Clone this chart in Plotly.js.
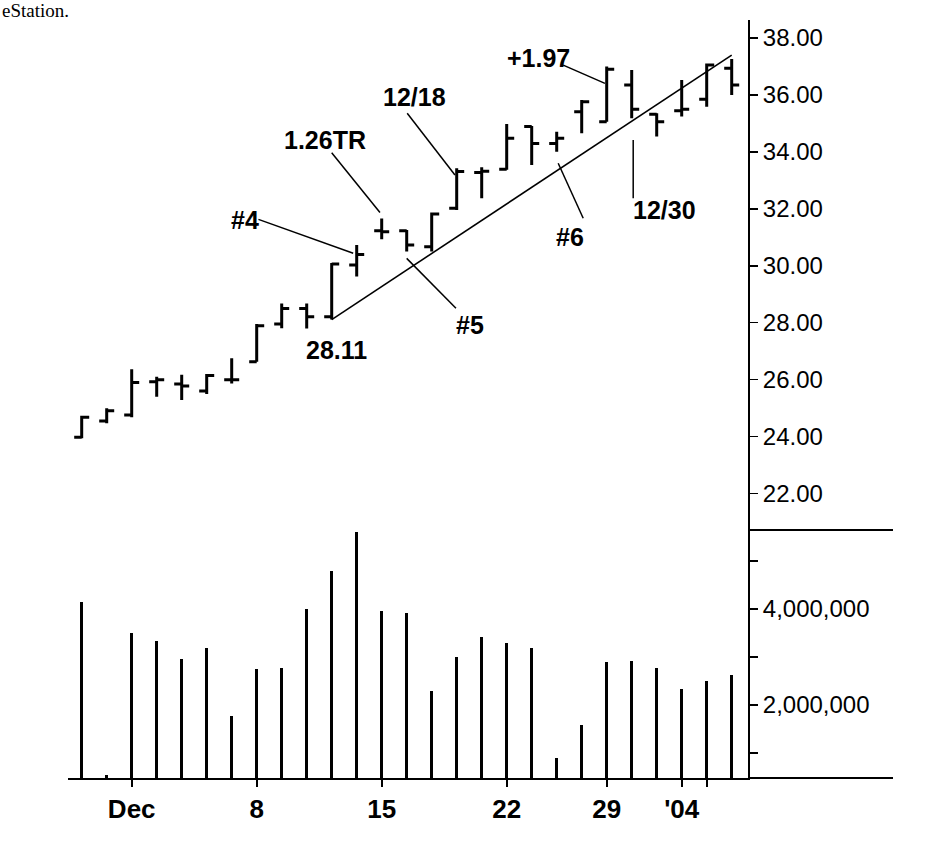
<!DOCTYPE html>
<html>
<head>
<meta charset="utf-8">
<script src="https://cdn.plot.ly/plotly-3.0.1.min.js"></script>
<style>
  html, body { margin: 0; padding: 0; background: #ffffff; }
  #chart { width: 942px; height: 846px; }
</style>
</head>
<body>
<div id="chart"></div>
<script>
// Trading days (Nov 26, 2003 - Jan 6, 2004)
const dates = ['Nov 26','Nov 28','Dec 1','Dec 2','Dec 3','Dec 4','Dec 5',
  'Dec 8','Dec 9','Dec 10','Dec 11','Dec 12',
  'Dec 15','Dec 16','Dec 17','Dec 18','Dec 19',
  'Dec 22','Dec 23','Dec 24','Dec 26',
  'Dec 29','Dec 30','Dec 31','Jan 2','Jan 5','Jan 6'];

const openP  = [23.98,24.55,24.76,25.93,25.85,25.60,26.00,26.63,27.96,28.50,28.21,30.03,31.23,31.23,30.67,32.02,33.28,33.39,34.89,34.30,35.41,35.06,36.35,35.32,35.45,35.85,36.94];
const highP  = [24.73,25.00,26.37,26.10,26.17,26.20,26.75,27.96,28.68,28.68,30.10,30.73,31.66,31.26,31.87,33.43,33.46,34.98,34.91,34.71,35.82,37.00,36.88,35.36,36.53,37.11,37.26];
const lowP   = [23.94,24.47,24.68,25.40,25.29,25.50,25.87,26.63,27.81,27.80,28.11,29.62,30.93,30.50,30.50,31.96,32.37,33.37,33.54,34.01,34.66,35.06,35.18,34.54,35.24,35.59,36.00];
const closeP = [24.68,24.91,25.90,26.00,25.78,26.15,26.00,27.89,28.50,28.21,30.06,30.40,31.20,30.73,31.82,33.31,33.32,34.48,34.30,34.48,35.76,36.90,35.50,35.06,35.50,37.05,36.35];

const volume = [4150000,550000,3510000,3340000,2960000,3180000,1770000,2740000,2780000,4000000,4790000,5600000,3960000,3920000,2290000,3000000,3410000,3300000,3180000,900000,1590000,2890000,2920000,2780000,2330000,2510000,2630000];

// Trend line (from the 28.11 low to the last day)
const trendDates = ['Dec 11','Jan 6'];
const trendValues = [28.11, 37.40];

// X tick labels
const xTickDates  = ['Dec 1','Dec 8','Dec 15','Dec 22','Dec 29','Jan 2','Jan 5'];
const xTickLabels = ['Dec','8','15','22','29',"'04",''];
const xLongTickDates = ['Dec 1','Jan 2'];

// Price ticks
const priceTicks = [22,24,26,28,30,32,34,36,38];
// Volume ticks
const volTicks = [1000000,2000000,3000000,4000000,5000000];
const volTickLabels = ['','2,000,000','','4,000,000',''];

// Chart notes
const noteTexts = ['#4','1.26TR','12/18','+1.97','#5','#6','12/30','28.11'];
const noteX = [6.53, 9.73, 13.33, 18.26, 15.53, 19.53, 23.33, 10.2];
const noteY = [31.61, 34.42, 35.94, 37.29, 27.92, 31.01, 31.96, 27.04];
const leaders = [
  [7.07,31.63,10.86,30.44],
  [10.0,33.97,11.93,31.87],
  [13.02,35.36,14.93,33.19],
  [19.26,37.05,20.93,36.41],
  [14.97,28.51,13.0,30.26],
  [20.06,31.67,19.06,33.6],
  [22.06,32.37,22.06,34.42]
];

const idx = d => dates.indexOf(d);
const xs = dates.map((d,i) => i);

const FONT = 'Liberation Sans, Arial, Helvetica, sans-serif';

const traces = [
  {
    type: 'ohlc', x: xs, open: openP, high: highP, low: lowP, close: closeP,
    xaxis: 'x', yaxis: 'y', tickwidth: 0.3,
    increasing: {line: {color: '#000000', width: 3}},
    decreasing: {line: {color: '#000000', width: 3}},
    hoverinfo: 'skip', showlegend: false
  },
  {
    type: 'scatter', mode: 'lines', x: trendDates.map(idx), y: trendValues,
    xaxis: 'x', yaxis: 'y', line: {color: '#000000', width: 1.6},
    hoverinfo: 'skip', showlegend: false
  },
  {
    type: 'bar', x: xs, y: volume, xaxis: 'x', yaxis: 'y2', width: 0.14,
    marker: {color: '#000000', line: {width: 0}},
    hoverinfo: 'skip', showlegend: false
  }
];

const xRange = [-0.548, 26.652];
const splitFrac = (778 - 530) / 758;

const shapes = leaders.map(l => ({
  type: 'line', xref: 'x', yref: 'y', x0: l[0], y0: l[1], x1: l[2], y1: l[3],
  line: {color: '#000000', width: 1.5}
}));
// separator between panels and baseline extension to the right
shapes.push({type: 'line', xref: 'paper', yref: 'paper', x0: 1, x1: 1 + 145/680, y0: splitFrac, y1: splitFrac, line: {color: '#000000', width: 2}});
shapes.push({type: 'line', xref: 'paper', yref: 'paper', x0: 1, x1: 1 + 145/680, y0: 0, y1: 0, line: {color: '#000000', width: 2}});

const annotations = noteTexts.map((t,i) => ({
  text: t, x: noteX[i], y: noteY[i], xref: 'x', yref: 'y', showarrow: false,
  font: {family: FONT, size: 25, color: '#000000', weight: 'bold'}
}));
annotations.push({
  text: 'eStation.', xref: 'paper', yref: 'paper', x: -68/680, y: 1 + 20/758,
  xanchor: 'left', yanchor: 'top', xshift: 1, yshift: 1, showarrow: false, borderpad: 0,
  font: {family: 'Liberation Serif, Times New Roman, serif', size: 19, color: '#000000'}
});

const layout = {
  width: 942, height: 846,
  margin: {l: 68, r: 194, t: 20, b: 68},
  paper_bgcolor: '#ffffff', plot_bgcolor: '#ffffff',
  showlegend: false, bargap: 0,
  xaxis: {
    type: 'linear', range: xRange, anchor: 'y2',
    showgrid: false, zeroline: false, showline: true, linecolor: '#000000', linewidth: 2,
    ticks: 'outside', ticklen: 7, tickwidth: 2, tickcolor: '#000000',
    tickmode: 'array', tickvals: xTickDates.map(idx), ticktext: xTickLabels,
    tickfont: {family: FONT, size: 26, color: '#000000', weight: 'bold'},
    rangeslider: {visible: false}, fixedrange: true
  },
  xaxis2: {
    type: 'linear', range: xRange, overlaying: 'x', anchor: 'y2', side: 'bottom',
    showgrid: false, zeroline: false, showline: false,
    ticks: 'outside', ticklen: 18, tickwidth: 2, tickcolor: '#000000',
    tickmode: 'array', tickvals: xLongTickDates.map(idx), showticklabels: false
  },
  yaxis: {
    domain: [splitFrac, 1], range: [20.72, 38.634], side: 'right', anchor: 'x',
    showgrid: false, zeroline: false, showline: true, linecolor: '#000000', linewidth: 2,
    ticks: 'outside', ticklen: 8, tickwidth: 1.5, tickcolor: '#000000',
    tickmode: 'array', tickvals: priceTicks, tickformat: '.2f',
    tickfont: {family: FONT, size: 24, color: '#000000'}, fixedrange: true
  },
  yaxis2: {
    domain: [0, splitFrac], range: [479000, 5646000], side: 'right', anchor: 'x',
    showgrid: false, zeroline: false, showline: true, linecolor: '#000000', linewidth: 2,
    ticks: 'outside', ticklen: 8, tickwidth: 1.5, tickcolor: '#000000',
    tickmode: 'array', tickvals: volTicks, ticktext: volTickLabels,
    tickfont: {family: FONT, size: 24, color: '#000000'}, fixedrange: true
  },
  shapes: shapes,
  annotations: annotations
};

Plotly.newPlot('chart', traces, layout, {displayModeBar: false, staticPlot: true});
</script>
</body>
</html>
